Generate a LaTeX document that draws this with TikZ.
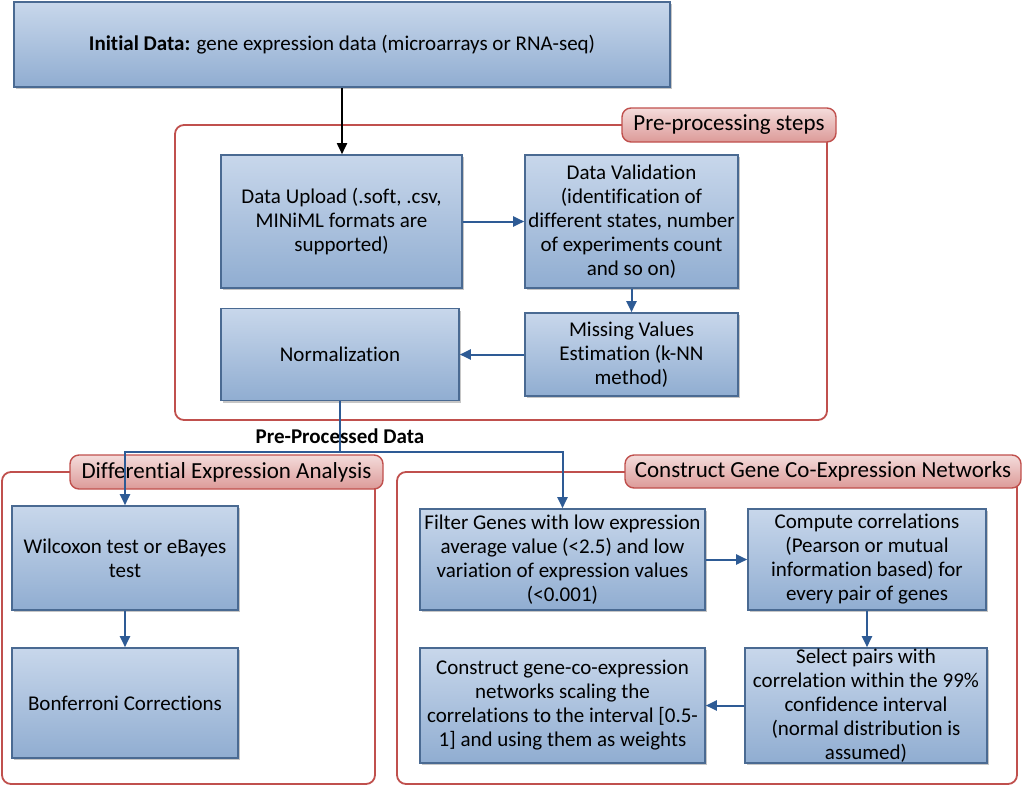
\documentclass[tikz,border=0pt]{standalone}
\usepackage{fontspec}
\setmainfont{Carlito}[Ligatures=NoCommon]
\usetikzlibrary{shadows,arrows.meta}

\definecolor{boxtop}{HTML}{C8D7EB}
\definecolor{boxbot}{HTML}{90ADD1}
\definecolor{boxline}{HTML}{4A6A92}
\definecolor{flow}{HTML}{2E5B95}
\definecolor{grpline}{HTML}{C0504D}
\definecolor{tabtop}{HTML}{F4DCDB}
\definecolor{tabbot}{HTML}{DC9A98}

\tikzset{
  proc/.style={draw=boxline, line width=1.6pt, top color=boxtop, bottom color=boxbot,
    align=center, inner xsep=2pt, inner ysep=0pt, font=\fontsize{21}{24}\selectfont,
    drop shadow={shadow xshift=2pt, shadow yshift=-2pt, opacity=0.45}},
  group/.style={draw=grpline, line width=1.8pt, rounded corners=9pt},
  grouptab/.style={draw=grpline, line width=1.4pt, rounded corners=9pt,
    top color=tabtop, bottom color=tabbot, inner ysep=0pt, font=\fontsize{23}{26}\selectfont},
  flowline/.style={draw=flow, line width=2pt},
  flowarrow/.style={flowline, -{Triangle[length=11pt,width=10pt]}},
}

\begin{document}
\begin{tikzpicture}[x=1pt, y=-1pt]
  \useasboundingbox (0,0) rectangle (1024,787);

  % groups
  \draw[group] (175,125) rectangle (827,420);
  \draw[group] (2,472) rectangle (375,784);
  \draw[group] (397,472) rectangle (1017,784);

  \node[grouptab, minimum width=214, minimum height=34] (preTab) at (729,125) {Pre-processing steps};
  \node[grouptab, minimum width=313, minimum height=34] (diffTab) at (226.5,472) {Differential Expression Analysis};
  \node[grouptab, minimum width=396, minimum height=33] (netTab) at (823,471.5) {Construct Gene Co-Expression Networks};

  % boxes
  \node[proc, minimum width=656, minimum height=85] (init) at (342,44.5)
    {\textbf{Initial Data:} gene expression data (microarrays or RNA-seq)};

  \node[proc, minimum width=241, minimum height=133] (upload) at (341.5,221.5)
    {Data Upload (.soft, .csv,\\ MINiML formats are\\ supported)};
  \node[proc, minimum width=213, minimum height=133] (valid) at (631.5,221.5)
    {Data Validation\\ (identification of\\ different states, number\\ of experiments count\\ and so on)};
  \node[proc, minimum width=213, minimum height=83] (missing) at (631.5,354.5)
    {Missing Values\\ Estimation (k-NN\\ method)};
  \node[proc, minimum width=238, minimum height=92] (norm) at (340,354.5)
    {Normalization};

  \node[proc, minimum width=226, minimum height=104] (wilc) at (125,558)
    {Wilcoxon test or eBayes\\ test};
  \node[proc, minimum width=226, minimum height=110] (bonf) at (125,703)
    {Bonferroni Corrections};

  \node[proc, minimum width=285, minimum height=101] (filter) at (562.5,559.5)
    {Filter Genes with low expression\\ average value (<2.5) and low\\ variation of expression values\\ (<0.001)};
  \node[proc, minimum width=238, minimum height=101] (corr) at (867,559.5)
    {Compute correlations\\ (Pearson or mutual\\ information based) for\\ every pair of genes};
  \node[proc, minimum width=242, minimum height=115, inner ysep=-4pt] (select) at (866,705.5)
    {Select pairs with\\ correlation within the 99\%\\ confidence interval\\ (normal distribution is\\ assumed)};
  \node[proc, minimum width=285, minimum height=115] (network) at (562.5,705.5)
    {Construct gene-co-expression\\ networks scaling the\\ correlations to the interval [0.5-\\ 1] and using them as weights};

  \node[font=\fontsize{21}{24}\selectfont\bfseries] (ppd) at (340,436) {Pre-Processed Data};
  \coordinate (split) at (340,452);

  % connectors
  \draw[line width=1.8pt, -{Triangle[length=11pt,width=10pt]}] (init.south) -- (init.south |- upload.north);
  \draw[flowarrow] (upload) -- (valid);
  \draw[flowarrow] (valid) -- (missing);
  \draw[flowarrow] (missing) -- (norm);
  \draw[flowline] (norm.south) -- (split);
  \draw[flowarrow] (split) -| (wilc);
  \draw[flowarrow] (split) -| (filter);
  \draw[flowarrow] (wilc) -- (bonf);
  \draw[flowarrow] (filter) -- (corr);
  \draw[flowarrow] (corr.south) -- (corr.south |- select.north);
  \draw[flowarrow] (select) -- (network);
\end{tikzpicture}
\end{document}
